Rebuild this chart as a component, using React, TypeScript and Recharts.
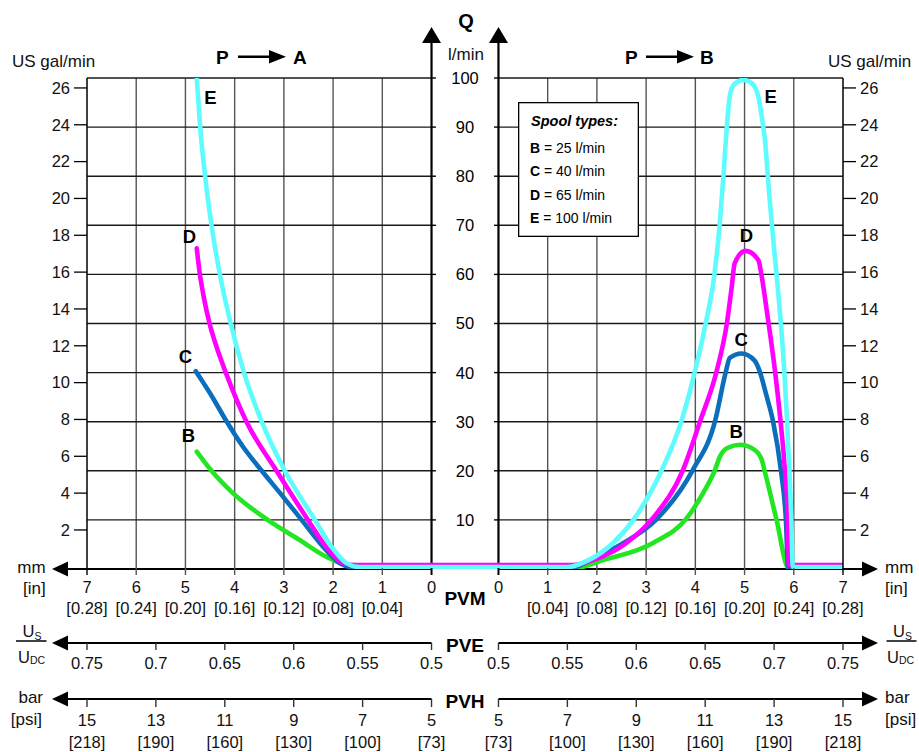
import React from 'react';
import { ComposedChart, Line, XAxis, YAxis, ReferenceLine, ReferenceDot, Legend } from 'recharts';

// ---------- layout constants for the split horizontal axis ----------
const HALF_GAP = 0.68; // half width of the gap around the Q axis, in mm units
const X_MIN = -7 - HALF_GAP;
const X_MAX = 7 + HALF_GAP;
const ARROW_EXT = 0.386; // arrow shafts beyond the plot, in mm units
const FONT = '"Liberation Sans", Arial, Helvetica, sans-serif';
const FS = 16.5;

// ---------- tick values / labels ----------
const MM_TICKS = [0, 1, 2, 3, 4, 5, 6, 7];
const IN_LABELS = ['', '[0.04]', '[0.08]', '[0.12]', '[0.16]', '[0.20]', '[0.24]', '[0.28]'];
const PVE_TICKS = [0.5, 0.55, 0.6, 0.65, 0.7, 0.75];
const PVH_TICKS = [5, 7, 9, 11, 13, 15];
const PSI_LABELS = ['[73]', '[100]', '[130]', '[160]', '[190]', '[218]'];
const Q_TICKS = [10, 20, 30, 40, 50, 60, 70, 80, 90, 100];
const GAL_TICKS = [2, 4, 6, 8, 10, 12, 14, 16, 18, 20, 22, 24, 26];
const SPOOLS = ['B', 'C', 'D', 'E'];
const SPOOL_FLOW = [25, 40, 65, 100];

// ---------- P -> A (left half): spool stroke in mm, flow in l/min ----------
const B_A_MM = [4.77, 4.47, 4.04, 3.33, 2.68, 2.14, 1.8, 1.55, 0];
const B_A_Q = [23.9, 20, 15.5, 10, 5.9, 2.5, 1.0, 0.3, 0.3];
const C_A_MM = [4.79, 4.5, 4.16, 3.83, 3.45, 3.08, 2.64, 2.2, 1.87, 1.6, 0];
const C_A_Q = [40.3, 35.8, 30, 24.9, 20, 15.5, 10, 4.5, 1.2, 0.4, 0.4];
const D_A_MM = [4.77, 4.72, 4.62, 4.51, 4.36, 4.18, 3.76, 3.15, 2.51, 2.14, 1.8, 1.53, 0];
const D_A_Q = [65.3, 61, 55, 50, 45, 40, 30, 20, 10, 4.5, 1.2, 0.8, 0.8];
const E_A_MM = [4.77, 4.7, 4.6, 4.47, 4.3, 4.08, 3.81, 3.45, 2.98, 2.37, 2.03, 1.73, 1.46, 0];
const E_A_Q = [100, 90, 80, 70, 60, 50, 40, 30, 20, 10, 4.5, 1.2, 0.4, 0.4];

// ---------- P -> B (right half) ----------
const B_B_MM = [0, 1.6, 2.13, 3.14, 3.83, 4.16, 4.4, 4.5, 4.64, 4.91, 5.21, 5.35, 5.42, 5.65, 5.89, 7];
const B_B_Q = [0.3, 0.3, 1.8, 5.3, 10.4, 15.5, 20.2, 22.9, 24.6, 25.3, 24.2, 22.2, 19.5, 10, 0.3, 0.3];
const C_B_MM = [0, 1.55, 1.86, 2.47, 3.22, 3.95, 4.4, 4.62, 4.7, 4.94, 5.2, 5.31, 5.44, 5.58, 5.74, 5.84, 5.885, 7];
const C_B_Q = [0.4, 0.4, 1.8, 4.9, 10.2, 20.2, 30.1, 40.2, 43, 43.9, 42.5, 40.2, 35.5, 30, 20, 10, 0.4, 0.4];
const D_B_MM = [0, 1.5, 1.92, 2.6, 3.14, 3.75, 4.1, 4.43, 4.64, 4.74, 4.8, 5.02, 5.28, 5.35, 5.45, 5.62, 5.73, 5.82, 5.88, 5.9, 7];
const D_B_Q = [0.8, 0.8, 1.8, 5.3, 10.4, 20.2, 30.2, 40.2, 50, 57.5, 62.3, 64.8, 62.9, 59.5, 52.7, 40.2, 30.2, 20.2, 10.4, 0.8, 0.8];
const E_B_MM = [0, 1.4, 1.83, 2.33, 2.77, 3.32, 3.72, 3.99, 4.21, 4.39, 4.49, 4.57, 4.64, 4.71, 4.81, 4.98, 5.15, 5.28, 5.35, 5.42, 5.5, 5.59, 5.7, 5.8, 5.86, 5.91, 5.95, 5.98, 7];
const E_B_Q = [0.4, 0.4, 1.8, 5.3, 10.4, 20.2, 30.2, 40.2, 50, 60.2, 69.7, 79.9, 90.1, 96.9, 98.9, 99.6, 98.9, 96.2, 92.1, 86.7, 76.5, 66.3, 54.5, 41.5, 31, 20.2, 10.4, 0.4, 0.4];

// curve label anchor points (mm, l/min), side A = left, B = right
const LABELS_A = [
  { t: 'E', mm: 4.49, q: 96.1 },
  { t: 'D', mm: 4.92, q: 67.8 },
  { t: 'C', mm: 5.0, q: 43.4 },
  { t: 'B', mm: 4.94, q: 27.3 },
];
const LABELS_B = [
  { t: 'E', mm: 5.53, q: 96.3 },
  { t: 'D', mm: 5.04, q: 68.0 },
  { t: 'C', mm: 4.93, q: 46.8 },
  { t: 'B', mm: 4.83, q: 28.1 },
];

const uLeft = (mm: number) => -(mm + HALF_GAP);
const uRight = (mm: number) => mm + HALF_GAP;

function build(aMm: number[], aQ: number[], bMm: number[], bQ: number[]) {
  const left = aMm.map((m, i) => ({ u: uLeft(m), q: aQ[i] }));
  const right = bMm.map((m, i) => ({ u: uRight(m), q: bQ[i] }));
  return [...left, ...right];
}

const SERIES = [
  { key: 'B', color: '#22e622', data: build(B_A_MM, B_A_Q, B_B_MM, B_B_Q) },
  { key: 'C', color: '#0a6ebd', data: build(C_A_MM, C_A_Q, C_B_MM, C_B_Q) },
  { key: 'D', color: '#ff00ff', data: build(D_A_MM, D_A_Q, D_B_MM, D_B_Q) },
  { key: 'E', color: '#5efcfc', data: build(E_A_MM, E_A_Q, E_B_MM, E_B_Q) },
];

const MM_TICK_U = [...MM_TICKS.slice().reverse().map(uLeft), ...MM_TICKS.map(uRight)];
const pveToMm = (v: number) => ((v - 0.5) / 0.25) * 7;
const pvhToMm = (p: number) => ((p - 5) / 10) * 7;

// rows below the plot, expressed on the Q scale (491 px per 100 l/min)
const PX_PER_Q = 4.91;
const ROW_PVE = -74 / PX_PER_Q;
const ROW_PVH = -130 / PX_PER_Q;
const Q_ARROW_BASE = 526 / PX_PER_Q;

const MmTick = (p: any) => {
  const { x, y, payload } = p;
  const mm = Math.round(Math.abs(payload.value) - HALF_GAP);
  const axis = mm === 0 || mm === 7;
  return (
    <g>
      <line x1={x} x2={x} y1={y - 1} y2={y + 6} stroke={axis ? '#000' : '#555'} strokeWidth={mm === 0 ? 2 : 1.4} />
      <text x={x} y={y + 23.7} textAnchor="middle" fontSize={FS} fill="#111">{MM_TICKS[mm]}</text>
      {IN_LABELS[mm] ? (
        <text x={x} y={y + 45} textAnchor="middle" fontSize={FS} fill="#111">{IN_LABELS[mm]}</text>
      ) : null}
    </g>
  );
};

const pveTickShape = (label: string) => (p: any) => (
  <g>
    <line x1={p.cx} x2={p.cx} y1={p.cy} y2={p.cy + 7} stroke="#333" strokeWidth={1.4} />
    <text x={p.cx} y={p.cy + 26} textAnchor="middle" fontSize={FS} fill="#111">{label}</text>
  </g>
);
const pvhTickShape = (label: string, psi: string) => (p: any) => (
  <g>
    <line x1={p.cx} x2={p.cx} y1={p.cy} y2={p.cy + 8} stroke="#333" strokeWidth={1.4} />
    <text x={p.cx} y={p.cy + 27} textAnchor="middle" fontSize={FS} fill="#111">{label}</text>
    <text x={p.cx} y={p.cy + 49} textAnchor="middle" fontSize={FS} fill="#111">{psi}</text>
  </g>
);

const upArrow = (p: any) => (
  <polygon points={`${p.cx - 9.5},${p.cy} ${p.cx + 9.5},${p.cy} ${p.cx},${p.cy - 16}`} fill="#000" />
);
const leftArrow = (p: any) => (
  <polygon points={`${p.cx},${p.cy - 7.5} ${p.cx},${p.cy + 7.5} ${p.cx - 16},${p.cy}`} fill="#000" />
);
const rightArrow = (p: any) => (
  <polygon points={`${p.cx},${p.cy - 7.5} ${p.cx},${p.cy + 7.5} ${p.cx + 16},${p.cy}`} fill="#000" />
);
const textShape = (txt: string, size: number, bold: boolean) => (p: any) => (
  <text x={p.cx} y={p.cy} dy="0.36em" textAnchor="middle" fontSize={size} fontWeight={bold ? 'bold' : 'normal'} fill="#000">
    {txt}
  </text>
);

const SpoolBox = () => (
  <svg width={121} height={135} style={{ display: 'block', fontFamily: FONT }}>
    <rect x={0.65} y={0.65} width={119.7} height={133.7} fill="#fff" stroke="#000" strokeWidth={1.3} />
    <text x={13} y={24} fontSize={14.5} fontWeight="bold" fontStyle="italic" fill="#000">Spool types:</text>
    {SPOOLS.map((s, i) => (
      <text key={s} x={12} y={51 + i * 23.4} fontSize={14} fill="#000">
        <tspan fontWeight="bold">{s}</tspan>
        {` = ${SPOOL_FLOW[i]} l/min`}
      </text>
    ))}
  </svg>
);

const Overlay = () => (
  <svg width={919} height={752} style={{ position: 'absolute', left: 0, top: 0, pointerEvents: 'none', fontFamily: FONT }}>
    <g fill="#111" fontSize={FS}>
      <text x={12} y={67} fontSize={17}>US gal/min</text>
      <text x={828} y={67} fontSize={17}>US gal/min</text>
      <text x={466} y={60} textAnchor="middle" fontSize={17}>l/min</text>
      <text x={45.7} y={573} textAnchor="end" fontSize={17}>mm</text>
      <text x={45.7} y={594} textAnchor="end" fontSize={17}>[in]</text>
      <text x={885} y={573} fontSize={17}>mm</text>
      <text x={885} y={594} fontSize={17}>[in]</text>
      <text x={43} y={703} textAnchor="end" fontSize={17}>bar</text>
      <text x={42} y={725} textAnchor="end" fontSize={17}>[psi]</text>
      <text x={885} y={703} fontSize={17}>bar</text>
      <text x={885} y={725} fontSize={17}>[psi]</text>
      <text x={22.5} y={637}>U<tspan fontSize={10.5} dy={3}>S</tspan></text>
      <text x={18} y={663}>U<tspan fontSize={10.5} dy={1}>DC</tspan></text>
      <text x={893} y={637}>U<tspan fontSize={10.5} dy={3}>S</tspan></text>
      <text x={887} y={663}>U<tspan fontSize={10.5} dy={1}>DC</tspan></text>
    </g>
    <line x1={16} x2={46.5} y1={641} y2={641} stroke="#000" strokeWidth={1.5} />
    <line x1={886.5} x2={916.5} y1={641} y2={641} stroke="#000" strokeWidth={1.5} />
    <g fill="#000" fontWeight="bold" fontSize={19}>
      <text x={466} y={28} textAnchor="middle" fontSize={20}>Q</text>
      <text x={216} y={63.5}>P</text>
      <text x={293} y={63.5}>A</text>
      <text x={625} y={63.5}>P</text>
      <text x={700} y={63.5}>B</text>
      <text x={465} y={605} textAnchor="middle">PVM</text>
      <text x={465} y={652} textAnchor="middle">PVE</text>
      <text x={465} y={708} textAnchor="middle">PVH</text>
    </g>
    <line x1={238} x2={272} y1={56.7} y2={56.7} stroke="#000" strokeWidth={2.6} />
    <polygon points="269,50 269,63.4 286,56.7" fill="#000" />
    <line x1={646} x2={680} y1={56.7} y2={56.7} stroke="#000" strokeWidth={2.6} />
    <polygon points="677,50 677,63.4 694,56.7" fill="#000" />
  </svg>
);

export default function App() {
  const refs: any[] = [];
  // vertical grid lines
  [1, 2, 3, 4, 5, 6].forEach((m) => {
    refs.push(<ReferenceLine key={`vl${m}`} xAxisId="mm" yAxisId="q" x={uLeft(m)} stroke="#555" strokeWidth={1.4} ifOverflow="visible" />);
    refs.push(<ReferenceLine key={`vr${m}`} xAxisId="mm" yAxisId="q" x={uRight(m)} stroke="#555" strokeWidth={1.4} ifOverflow="visible" />);
  });
  // horizontal grid lines (split by the Q axis gap)
  Q_TICKS.forEach((q) => {
    refs.push(<ReferenceLine key={`hl${q}`} xAxisId="mm" yAxisId="q" segment={[{ x: X_MIN, y: q }, { x: uLeft(0), y: q }]} stroke="#1a1a1a" strokeWidth={1.4} ifOverflow="visible" />);
    refs.push(<ReferenceLine key={`hr${q}`} xAxisId="mm" yAxisId="q" segment={[{ x: uRight(0), y: q }, { x: X_MAX, y: q }]} stroke="#1a1a1a" strokeWidth={1.4} ifOverflow="visible" />);
    refs.push(<ReferenceLine key={`tl${q}`} xAxisId="mm" yAxisId="q" segment={[{ x: uLeft(0), y: q }, { x: uLeft(0) + 0.09, y: q }]} stroke="#000" strokeWidth={1.4} ifOverflow="visible" />);
    refs.push(<ReferenceLine key={`tr${q}`} xAxisId="mm" yAxisId="q" segment={[{ x: uRight(0) - 0.09, y: q }, { x: uRight(0), y: q }]} stroke="#000" strokeWidth={1.4} ifOverflow="visible" />);
  });
  // the two Q axes
  refs.push(<ReferenceLine key="qaxL" xAxisId="mm" yAxisId="q" segment={[{ x: uLeft(0), y: 0 }, { x: uLeft(0), y: Q_ARROW_BASE }]} stroke="#000" strokeWidth={2.2} ifOverflow="visible" />);
  refs.push(<ReferenceLine key="qaxR" xAxisId="mm" yAxisId="q" segment={[{ x: uRight(0), y: 0 }, { x: uRight(0), y: Q_ARROW_BASE }]} stroke="#000" strokeWidth={2.2} ifOverflow="visible" />);
  // horizontal arrow axes: mm, PVE, PVH
  [0, ROW_PVE, ROW_PVH].forEach((row, i) => {
    refs.push(<ReferenceLine key={`axL${i}`} xAxisId="mm" yAxisId="q" segment={[{ x: X_MIN - ARROW_EXT, y: row }, { x: uLeft(0), y: row }]} stroke="#000" strokeWidth={2} ifOverflow="visible" />);
    refs.push(<ReferenceLine key={`axR${i}`} xAxisId="mm" yAxisId="q" segment={[{ x: uRight(0), y: row }, { x: X_MAX + ARROW_EXT, y: row }]} stroke="#000" strokeWidth={2} ifOverflow="visible" />);
  });

  const dots: any[] = [];
  dots.push(<ReferenceDot key="arQL" xAxisId="mm" yAxisId="q" x={uLeft(0)} y={Q_ARROW_BASE} ifOverflow="visible" shape={upArrow} />);
  dots.push(<ReferenceDot key="arQR" xAxisId="mm" yAxisId="q" x={uRight(0)} y={Q_ARROW_BASE} ifOverflow="visible" shape={upArrow} />);
  [0, ROW_PVE, ROW_PVH].forEach((row, i) => {
    dots.push(<ReferenceDot key={`arL${i}`} xAxisId="mm" yAxisId="q" x={X_MIN - ARROW_EXT} y={row} ifOverflow="visible" shape={leftArrow} />);
    dots.push(<ReferenceDot key={`arR${i}`} xAxisId="mm" yAxisId="q" x={X_MAX + ARROW_EXT} y={row} ifOverflow="visible" shape={rightArrow} />);
  });
  // PVE / PVH tick rows
  PVE_TICKS.forEach((v) => {
    const lab = String(v);
    dots.push(<ReferenceDot key={`pveL${v}`} xAxisId="mm" yAxisId="q" x={uLeft(pveToMm(v))} y={ROW_PVE} ifOverflow="visible" shape={pveTickShape(lab)} />);
    dots.push(<ReferenceDot key={`pveR${v}`} xAxisId="mm" yAxisId="q" x={uRight(pveToMm(v))} y={ROW_PVE} ifOverflow="visible" shape={pveTickShape(lab)} />);
  });
  PVH_TICKS.forEach((v, i) => {
    dots.push(<ReferenceDot key={`pvhL${v}`} xAxisId="mm" yAxisId="q" x={uLeft(pvhToMm(v))} y={ROW_PVH} ifOverflow="visible" shape={pvhTickShape(String(v), PSI_LABELS[i])} />);
    dots.push(<ReferenceDot key={`pvhR${v}`} xAxisId="mm" yAxisId="q" x={uRight(pvhToMm(v))} y={ROW_PVH} ifOverflow="visible" shape={pvhTickShape(String(v), PSI_LABELS[i])} />);
  });
  Q_TICKS.forEach((q) => {
    dots.push(<ReferenceDot key={`ql${q}`} xAxisId="mm" yAxisId="q" x={0} y={q} ifOverflow="visible" shape={textShape(String(q), FS, false)} />);
  });
  LABELS_A.forEach((l) => {
    dots.push(<ReferenceDot key={`la${l.t}`} xAxisId="mm" yAxisId="q" x={uLeft(l.mm)} y={l.q} ifOverflow="visible" shape={textShape(l.t, 18.5, true)} />);
  });
  LABELS_B.forEach((l) => {
    dots.push(<ReferenceDot key={`lb${l.t}`} xAxisId="mm" yAxisId="q" x={uRight(l.mm)} y={l.q} ifOverflow="visible" shape={textShape(l.t, 18.5, true)} />);
  });

  return (
    <div style={{ position: 'absolute', left: 0, top: 0, width: 919, height: 752, fontFamily: FONT, background: '#fff' }}>
      <ComposedChart width={919} height={752} margin={{ top: 78, right: 16, bottom: 0, left: 27 }}>
        <XAxis xAxisId="mm" dataKey="u" type="number" domain={[X_MIN, X_MAX]} allowDataOverflow ticks={MM_TICK_U} interval={0}
          height={183} axisLine={false} tickLine={false} tickSize={0} tickMargin={0} tick={(p: any) => <MmTick {...p} />} />
        <YAxis yAxisId="q" hide type="number" domain={[0, 100]} allowDataOverflow />
        <YAxis yAxisId="galL" orientation="left" type="number" domain={[-0.12, 26.54]} allowDataOverflow ticks={GAL_TICKS} interval={0}
          width={60} tickSize={13} tickMargin={4} axisLine={{ stroke: '#000', strokeWidth: 1.5 }} tickLine={{ stroke: '#000', strokeWidth: 1.3 }}
          tick={{ fill: '#111', fontSize: FS }} />
        <YAxis yAxisId="galR" orientation="right" type="number" domain={[-0.12, 26.54]} allowDataOverflow ticks={GAL_TICKS} interval={0}
          width={60} tickSize={13} tickMargin={4} axisLine={{ stroke: '#000', strokeWidth: 1.5 }} tickLine={{ stroke: '#000', strokeWidth: 1.3 }}
          tick={{ fill: '#111', fontSize: FS }} />
        {refs}
        {SERIES.map((s) => (
          <Line key={s.key} xAxisId="mm" yAxisId="q" data={s.data} dataKey="q" type="monotone" stroke={s.color}
            strokeWidth={4.6} dot={false} activeDot={false} strokeLinecap="round" strokeLinejoin="round" isAnimationActive={false} />
        ))}
        {dots}
        <Legend layout="horizontal" verticalAlign="middle" align="center"
          wrapperStyle={{ position: 'absolute', left: 518, top: 102, width: 121, height: 135, margin: 0, padding: 0 }}
          content={() => <SpoolBox />} />
      </ComposedChart>
      <Overlay />
    </div>
  );
}
